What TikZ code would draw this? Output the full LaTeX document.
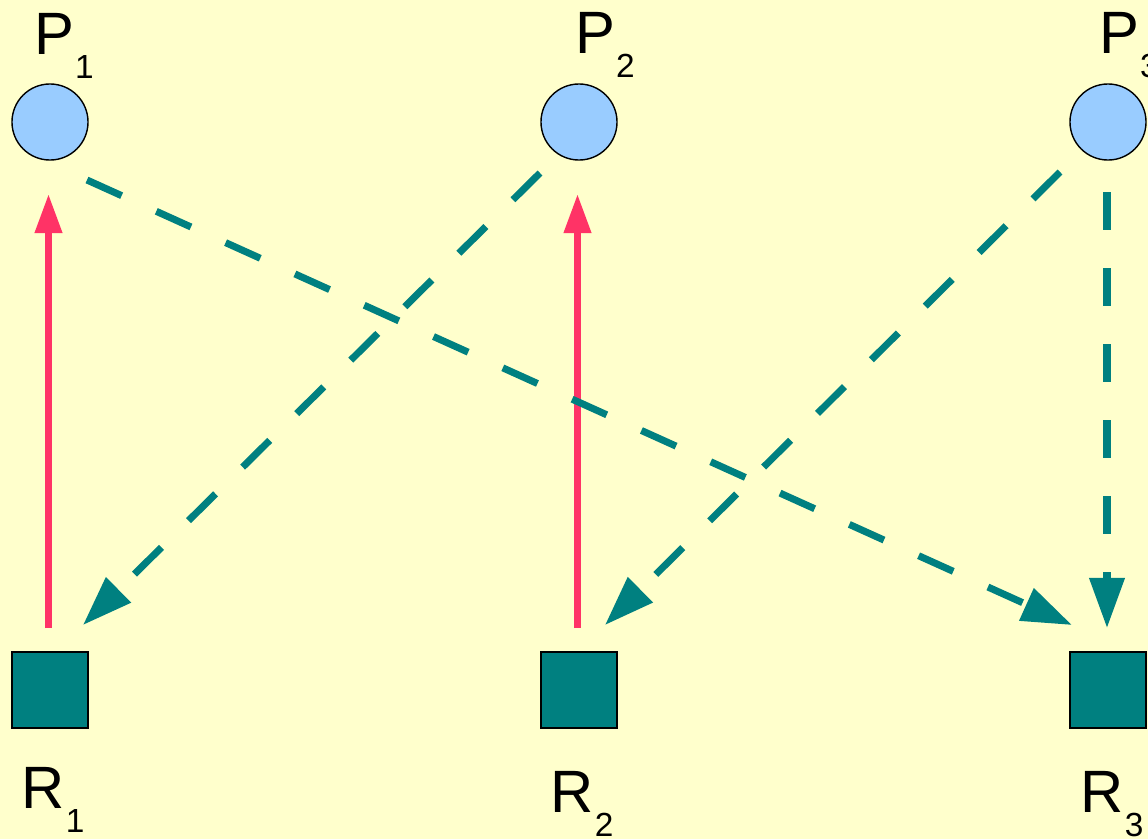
\documentclass[tikz,border=0pt]{standalone}
\usepackage{fontspec}
\setmainfont{Liberation Sans}
\usetikzlibrary{arrows.meta,calc}
\definecolor{bgyellow}{HTML}{FFFFCC}
\definecolor{procblue}{HTML}{99CCFF}
\definecolor{resteal}{HTML}{008080}
\definecolor{holdred}{HTML}{FF3366}
\newcommand{\sublbl}[2]{#1\kern0.01cm\raisebox{-0.24cm}{\fontsize{9.5}{11}\selectfont #2}}

\begin{document}
\begin{tikzpicture}[x=0.01cm, y=-0.01cm,
  proc/.style={circle, draw=black, fill=procblue, minimum size=0.76cm, inner sep=0pt},
  res/.style={rectangle, draw=black, fill=resteal, minimum size=0.76cm, inner sep=0pt},
  lbl/.style={anchor=base west, inner sep=0pt, font=\fontsize{17}{20}\selectfont},
  hold/.style={draw=holdred, line width=2pt, -{Triangle[length=0.39cm, width=0.26cm]}},
  req/.style={draw=resteal, line width=2pt, dash pattern=on 0.38cm off 0.38cm,
    -{Triangle[length=0.5cm, width=0.34cm]}}]
  \fill[bgyellow] (0,0) rectangle (1148,839);
  \useasboundingbox (0,0) rectangle (1148,839);
  % processes
  \node[proc] (p1) at (50,122) {};
  \node[proc] (p2) at (579,122) {};
  \node[proc] (p3) at (1108,122) {};
  \node[lbl] (lp1) at (33.5,54) {\sublbl{P}{1}};
  \node[lbl] (lp2) at (574.5,53) {\sublbl{P}{2}};
  \node[lbl] (lp3) at (1098.5,53) {\sublbl{P}{3}};
  % resources
  \node[res] (r1) at (50,690) {};
  \node[res] (r2) at (579,690) {};
  \node[res] (r3) at (1108,690) {};
  \node[lbl] (lr1) at (21,808) {\sublbl{R}{1}};
  \node[lbl] (lr2) at (550,812) {\sublbl{R}{2}};
  \node[lbl] (lr3) at (1080,812) {\sublbl{R}{3}};
  % held
  \draw[hold] ($(r1)+(-1.5,-62)$) -- ($(p1)+(-1.5,72)$);
  \draw[hold] ($(r2)+(-1.5,-62)$) -- ($(p2)+(-1.5,72)$);
  % requested
  \draw[req] ($(p1)+(37,58)$) -- ($(r3)+(-36,-65)$);
  \draw[req] ($(p2)+(-39,51)$) -- ($(r1)+(33,-65)$);
  \draw[req] ($(p3)+(-48,50)$) -- ($(r2)+(26,-65)$);
  \draw[req] ($(p3)+(-1,70)$) -- ($(r3)+(-1,-62)$);
\end{tikzpicture}
\end{document}
